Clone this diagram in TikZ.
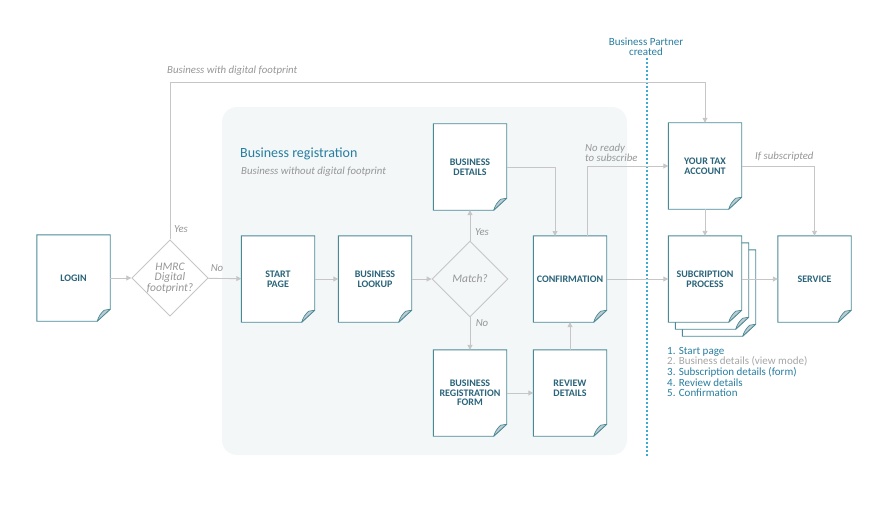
\documentclass[tikz,border=0pt]{standalone}
\usepackage{fontspec}
\setmainfont{Carlito}
\usetikzlibrary{arrows.meta,shapes.geometric,backgrounds}
\definecolor{docb}{RGB}{74,138,152}
\definecolor{doct}{RGB}{42,100,122}
\definecolor{foldc}{RGB}{190,204,208}
\definecolor{connc}{RGB}{198,198,198}
\definecolor{lblc}{RGB}{150,150,150}
\definecolor{bgc}{RGB}{243,247,248}
\definecolor{titlec}{RGB}{40,125,160}
\definecolor{dashc}{RGB}{60,170,210}
\newcommand\docpage[2][0]{%
  \draw[docb, line width=0.9pt, fill=white]
    ([shift={(#1,#1)}]#2.north west) -- ([shift={(#1,#1)}]#2.north east)
    -- ([shift={(#1,#1)},yshift=12pt]#2.south east)
    -- ([shift={(#1,#1)},xshift=-13pt]#2.south east)
    -- ([shift={(#1,#1)}]#2.south west) -- cycle;
  \draw[docb, line width=0.7pt, fill=foldc, line join=round]
    ([shift={(#1,#1)},yshift=12pt]#2.south east)
    -- ([shift={(#1,#1)},xshift=-13pt]#2.south east)
    to[bend left=15] ([shift={(#1,#1)},xshift=-6pt,yshift=11pt]#2.south east) -- cycle;
}
\begin{document}
\begin{tikzpicture}[x=1pt,y=-1pt,
  doc/.style={minimum width=73pt, minimum height=86pt, inner sep=0pt, align=center,
    font=\fontsize{10}{9.6}\selectfont\bfseries, text=doct},
  dia/.style={diamond, draw=connc, line width=0.9pt, inner sep=0pt, minimum width=76pt,
    minimum height=76pt, align=center, font=\fontsize{11.5}{9.8}\selectfont\itshape, text=lblc},
  conn/.style={draw=connc, line width=0.9pt, -{Triangle[length=5pt,width=5pt]}},
  lbl/.style={font=\fontsize{10.8}{10}\selectfont\itshape, text=lblc, inner sep=0pt},
  dashseg/.style={draw=dashc, line width=1.1pt}]
\useasboundingbox (0,0) rectangle (894,508);

% nodes
\node[doc] (login) at (73.5,278) {LOGIN};
\node[dia] (hmrc) at (170,278) {HMRC\\Digital\\footprint?};
\node[doc] (start) at (278,279) {START\\PAGE};
\node[doc] (lookup) at (375,279) {BUSINESS\\LOOKUP};
\node[dia] (match) at (470,279) {Match?};
\node[doc] (bdet) at (470,167) {BUSINESS\\DETAILS};
\node[doc] (conf) at (570,279) {CONFIRMATION};
\node[doc] (brf) at (470,393) {BUSINESS\\REGISTRATION\\FORM};
\node[doc] (rev) at (570,393) {REVIEW\\DETAILS\\\phantom{X}};
\node[doc] (tax) at (705,166) {YOUR TAX\\ACCOUNT};
\node[doc] (sub) at (705,279) {SUBCRIPTION\\PROCESS};
\node[doc] (serv) at (814.5,279) {SERVICE};

\begin{scope}[on background layer]
  \fill[bgc, rounded corners=15pt] (222,107) rectangle (627,455);
  \docpage{login}\docpage{start}\docpage{lookup}\docpage{bdet}\docpage{conf}
  \docpage{brf}\docpage{rev}\docpage{tax}
  \docpage[14]{sub}\docpage[7]{sub}\docpage{sub}
  \docpage{serv}
\end{scope}

% texts
\node[anchor=west, inner sep=0pt, font=\fontsize{14}{16}\selectfont, text=titlec] (title) at (240,154) {Business registration};
\node[lbl, anchor=west] (subtitle) at (241,172) {Business without digital footprint};
\node[anchor=south, inner sep=0pt, align=center, font=\fontsize{11}{10}\selectfont, text=titlec] (bp) at (646,56) {Business Partner\\created};
\foreach \yy in {58,62,...,454} { \draw[dashseg] (647,\yy) -- (647,\yy+2.3); }

\node[anchor=north west, inner sep=0pt, align=left, font=\fontsize{11}{10.6}\selectfont, text=titlec] (list) at (667,347)
  {1. Start page\\\textcolor{lblc!85!white}{2. Business details (view mode)}\\3. Subscription details (form)\\4. Review details\\5. Confirmation};

% labels
\node[lbl, anchor=west] (l1) at (167,71) {Business with digital footprint};
\node[lbl] (l2) at (181,229) {Yes};
\node[lbl] (l3) at (217,268) {No};
\node[lbl] (l4) at (482,232) {Yes};
\node[lbl] (l5) at (482,323) {No};
\node[lbl, anchor=west, align=left] (l6) at (585,153) {No ready\\to subscribe};
\node[lbl, anchor=west] (l7) at (755,157) {If subscripted};

% connectors
\coordinate (bend) at (170,82);
\draw[conn] (hmrc.north) -- (bend) -| (tax.north);
\draw[conn] (login) -- (hmrc);
\draw[conn] (hmrc) -- (start);
\draw[conn] (start) -- (lookup);
\draw[conn] (lookup) -- (match);
\draw[conn] (match) -- (bdet);
\draw[conn] (match) -- (brf);
\coordinate (c1) at (555,236);
\draw[conn] (bdet.east) -| (c1);
\draw[conn] (brf) -- (rev);
\draw[conn] (rev.north) -- (rev.north |- conf.south);
\coordinate (c2) at (587,236);
\draw[conn] (c2) |- (tax.west);
\draw[conn] (conf) -- (sub);
\draw[conn] (tax) -- (sub);
\draw[conn] (tax.east) -| (serv.north);
\draw[conn] (sub) -- (serv);
\end{tikzpicture}
\end{document}
